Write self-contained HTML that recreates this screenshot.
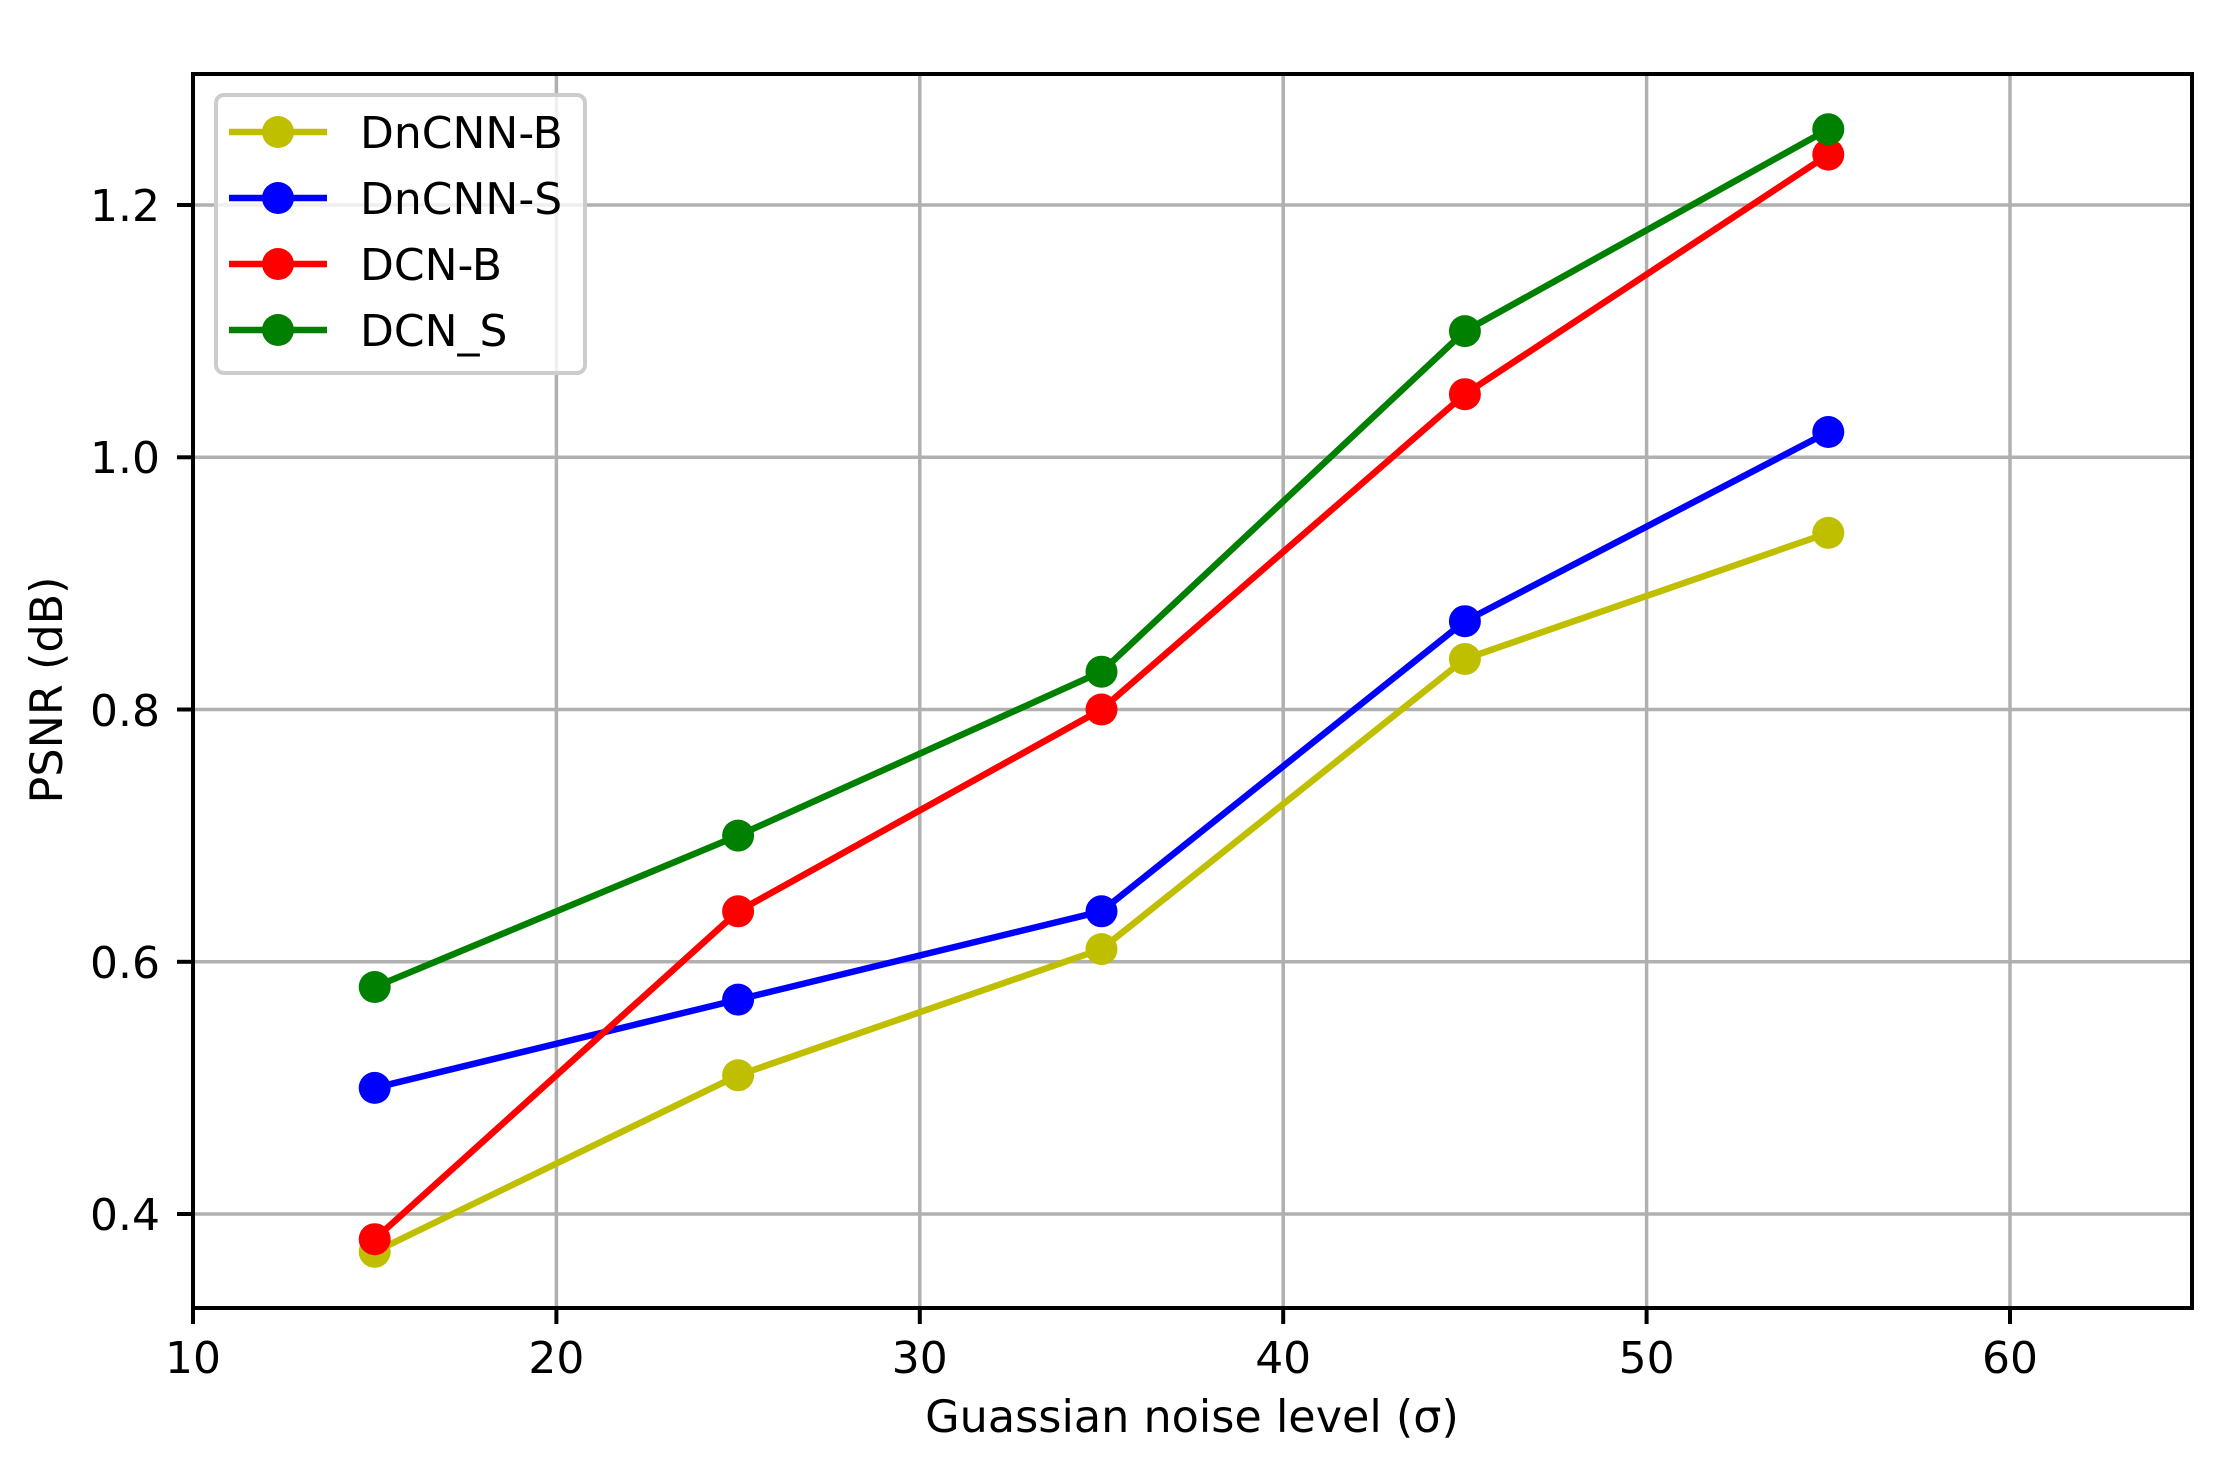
<!DOCTYPE html>
<html><head><meta charset="utf-8"><style>html,body{margin:0;padding:0;background:#fff}svg{display:block}</style></head>
<body>
<svg width="2222" height="1459" viewBox="0 0 2222 1459" xmlns="http://www.w3.org/2000/svg" font-family="DejaVu Sans, Liberation Sans, sans-serif">
<rect width="2222" height="1459" fill="#fff"/>
<g stroke="#b0b0b0" stroke-width="3.5">
<line x1="556.4" y1="74" x2="556.4" y2="1308"/>
<line x1="919.8" y1="74" x2="919.8" y2="1308"/>
<line x1="1283.2" y1="74" x2="1283.2" y2="1308"/>
<line x1="1646.6" y1="74" x2="1646.6" y2="1308"/>
<line x1="2010" y1="74" x2="2010" y2="1308"/>
<line x1="193" y1="1214" x2="2192" y2="1214"/>
<line x1="193" y1="961.8" x2="2192" y2="961.8"/>
<line x1="193" y1="709.5" x2="2192" y2="709.5"/>
<line x1="193" y1="457.3" x2="2192" y2="457.3"/>
<line x1="193" y1="205" x2="2192" y2="205"/>
</g>
<g fill="none" stroke-width="6.5" stroke-linejoin="round">
<polyline stroke="#bfbf00" points="374.7,1251.8 738.1,1075.3 1101.5,949.1 1464.9,659 1828.3,532.9"/>
<polyline stroke="#0000ff" points="374.7,1087.9 738.1,999.6 1101.5,911.3 1464.9,621.2 1828.3,432"/>
<polyline stroke="#ff0000" points="374.7,1239.2 738.1,911.3 1101.5,709.5 1464.9,394.2 1828.3,154.6"/>
<polyline stroke="#008000" points="374.7,987 738.1,835.6 1101.5,671.7 1464.9,331.1 1828.3,129.3"/>
</g>
<g fill="#bfbf00"><circle cx="374.7" cy="1251.8" r="16"/><circle cx="738.1" cy="1075.3" r="16"/><circle cx="1101.5" cy="949.1" r="16"/><circle cx="1464.9" cy="659" r="16"/><circle cx="1828.3" cy="532.9" r="16"/></g>
<g fill="#0000ff"><circle cx="374.7" cy="1087.9" r="16"/><circle cx="738.1" cy="999.6" r="16"/><circle cx="1101.5" cy="911.3" r="16"/><circle cx="1464.9" cy="621.2" r="16"/><circle cx="1828.3" cy="432" r="16"/></g>
<g fill="#ff0000"><circle cx="374.7" cy="1239.2" r="16"/><circle cx="738.1" cy="911.3" r="16"/><circle cx="1101.5" cy="709.5" r="16"/><circle cx="1464.9" cy="394.2" r="16"/><circle cx="1828.3" cy="154.6" r="16"/></g>
<g fill="#008000"><circle cx="374.7" cy="987" r="16"/><circle cx="738.1" cy="835.6" r="16"/><circle cx="1101.5" cy="671.7" r="16"/><circle cx="1464.9" cy="331.1" r="16"/><circle cx="1828.3" cy="129.3" r="16"/></g>
<rect x="193" y="74" width="1999" height="1234" fill="none" stroke="#000" stroke-width="4"/>
<g stroke="#000" stroke-width="4">
<line x1="193" y1="1308" x2="193" y2="1324"/><line x1="556.4" y1="1308" x2="556.4" y2="1324"/><line x1="919.8" y1="1308" x2="919.8" y2="1324"/><line x1="1283.2" y1="1308" x2="1283.2" y2="1324"/><line x1="1646.6" y1="1308" x2="1646.6" y2="1324"/><line x1="2010" y1="1308" x2="2010" y2="1324"/>
<line x1="177" y1="1214" x2="193" y2="1214"/><line x1="177" y1="961.8" x2="193" y2="961.8"/><line x1="177" y1="709.5" x2="193" y2="709.5"/><line x1="177" y1="457.3" x2="193" y2="457.3"/><line x1="177" y1="205" x2="193" y2="205"/>
</g>
<g font-size="44" fill="#000" text-anchor="middle">
<text x="193" y="1373">10</text><text x="556.4" y="1373">20</text><text x="919.8" y="1373">30</text><text x="1283.2" y="1373">40</text><text x="1646.6" y="1373">50</text><text x="2010" y="1373">60</text>
</g>
<g font-size="44" fill="#000" text-anchor="end">
<text x="160" y="1230">0.4</text><text x="160" y="978">0.6</text><text x="160" y="726">0.8</text><text x="160" y="473">1.0</text><text x="160" y="221">1.2</text>
</g>
<text x="1192" y="1432" font-size="44.5" text-anchor="middle">Guassian noise level (σ)</text>
<text transform="translate(62,690) rotate(-90)" font-size="44.5" text-anchor="middle">PSNR (dB)</text>
<rect x="216" y="95" width="369" height="278" rx="8" fill="#fff" fill-opacity="0.8" stroke="#cccccc" stroke-width="4"/>
<g stroke-width="6.5">
<line x1="229" y1="132" x2="327" y2="132" stroke="#bfbf00"/><circle cx="278" cy="132" r="16" fill="#bfbf00"/>
<line x1="229" y1="198" x2="327" y2="198" stroke="#0000ff"/><circle cx="278" cy="198" r="16" fill="#0000ff"/>
<line x1="229" y1="264" x2="327" y2="264" stroke="#ff0000"/><circle cx="278" cy="264" r="16" fill="#ff0000"/>
<line x1="229" y1="330" x2="327" y2="330" stroke="#008000"/><circle cx="278" cy="330" r="16" fill="#008000"/>
</g>
<g font-size="44" fill="#000">
<text x="360" y="148">DnCNN-B</text><text x="360" y="214">DnCNN-S</text><text x="360" y="280">DCN-B</text><text x="360" y="346">DCN_S</text>
</g>
</svg>
</body></html>
